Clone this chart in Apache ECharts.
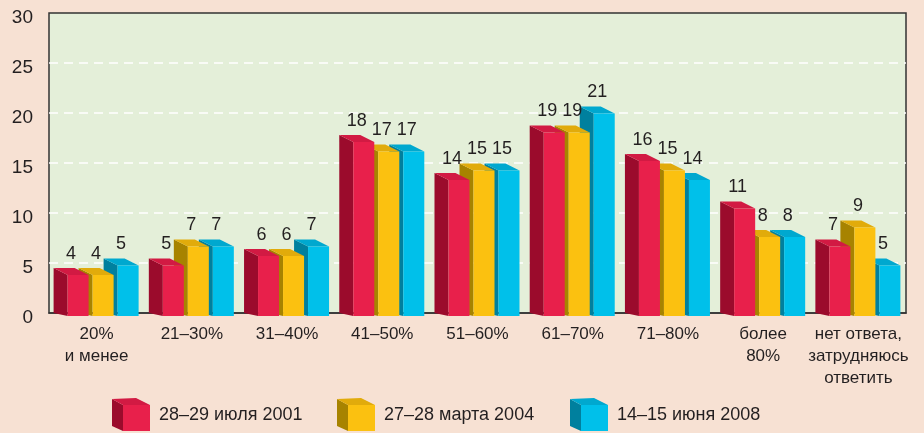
<!DOCTYPE html>
<html>
<head>
<meta charset="utf-8">
<script src="https://cdn.jsdelivr.net/npm/echarts@6/dist/echarts.min.js"></script>
<style>
  html, body { margin: 0; padding: 0; background: #f7e1d3; }
  #chart { width: 924px; height: 433px; }
</style>
</head>
<body>
<div id="chart"></div>
<script>
const categories = ['20%\nи менее', '21–30%', '31–40%', '41–50%', '51–60%', '61–70%', '71–80%', 'более\n80%', 'нет ответа,\nзатрудняюсь\nответить']
const seriesNames = ['28–29 июля 2001', '27–28 марта 2004', '14–15 июня 2008']
const values2001 = [4, 5, 6, 18, 14, 19, 16, 11, 7]
const values2004 = [4, 7, 6, 17, 15, 19, 15, 8, 9]
const values2008 = [5, 7, 7, 17, 15, 21, 14, 8, 5]
const yMin = 0
const yMax = 30
const yStep = 5

// front / side / top colours of each box
const palette = [
  { front: '#e8204b', side: '#9b0b2c', top: '#d21a43' },
  { front: '#fbc110', side: '#a78300', top: '#e1ab0b' },
  { front: '#00c0ea', side: '#00809e', top: '#00a8cf' }
]
const fontFamily = '"Liberation Sans Narrow", "Liberation Sans", sans-serif'
const textColor = '#231f20'

// left edge of the front face inside a category band (px for a 95px band)
const frontOffset = [-29, -4, 21]

function renderBox (params, api) {
  const si = params.seriesIndex
  const idx = api.value(0)
  const v = api.value(1)
  const base = api.coord([idx, 0])
  const top = api.coord([idx, v * 0.95])
  const k = api.size([1, 0])[0] / 95.2
  const w = 21 * k
  const dx = 14 * k
  const dy = 7
  const fl = base[0] + frontOffset[si] * k
  const bottom = base[1] + 3
  const ft = top[1]
  const c = palette[si]
  return {
    type: 'group',
    children: [
      {
        type: 'polygon',
        shape: { points: [[fl, bottom], [fl, ft], [fl - dx, ft - dy], [fl - dx, bottom - 3]] },
        style: { fill: c.side }
      },
      {
        type: 'polygon',
        shape: { points: [[fl, ft], [fl + w, ft], [fl + w - dx, ft - dy], [fl - dx, ft - dy]] },
        style: { fill: c.top }
      },
      {
        type: 'rect',
        shape: { x: fl, y: ft, width: w, height: bottom - ft },
        style: { fill: c.front }
      },
      {
        type: 'text',
        style: {
          text: String(v),
          x: fl + (w - dx) / 2,
          y: ft - 21,
          align: 'center',
          verticalAlign: 'middle',
          fill: textColor,
          font: '18px ' + fontFamily
        }
      }
    ]
  }
}

function legendCube (x0, c) {
  return [
    { type: 'polygon', shape: { points: [[x0 + 11, 431], [x0 + 11, 405], [x0, 399], [x0, 426]] }, style: { fill: c.side } },
    { type: 'polygon', shape: { points: [[x0 + 11, 405], [x0 + 38, 405], [x0 + 24, 398], [x0, 399]] }, style: { fill: c.top } },
    { type: 'rect', shape: { x: x0 + 11, y: 405, width: 27, height: 26 }, style: { fill: c.front } }
  ]
}

const legendX = [112, 337, 570]
const legendGraphics = []
seriesNames.forEach((name, i) => {
  legendCube(legendX[i], palette[i]).forEach(g => legendGraphics.push(g))
  legendGraphics.push({
    type: 'text',
    style: {
      text: name,
      x: legendX[i] + 47,
      y: 415,
      verticalAlign: 'middle',
      fill: textColor,
      font: '18px ' + fontFamily
    }
  })
})

const allValues = [values2001, values2004, values2008]

const chart = echarts.init(document.getElementById('chart'))
const option = {
  backgroundColor: '#f7e1d3',
  animation: false,
  grid: {
    left: 49,
    right: 18,
    top: 13,
    bottom: 120,
    show: true,
    backgroundColor: '#e4efd9',
    borderColor: '#333',
    borderWidth: 1.5
  },
  xAxis: {
    type: 'category',
    data: categories,
    axisTick: { show: false },
    axisLine: { show: true, lineStyle: { color: '#333', width: 1.5 } },
    axisLabel: {
      interval: 0,
      margin: 10,
      color: textColor,
      fontFamily: fontFamily,
      fontSize: 17,
      lineHeight: 22
    }
  },
  yAxis: {
    type: 'value',
    min: yMin,
    max: yMax,
    interval: yStep,
    axisLine: { show: false },
    axisTick: { show: false },
    axisLabel: {
      margin: 16,
      formatter: '{v|{value}}',
      rich: {
        v: {
          color: textColor,
          fontFamily: fontFamily,
          fontSize: 19,
          padding: [9, 0, 0, 0]
        }
      }
    },
    splitLine: {
      showMinLine: false,
      showMaxLine: false,
      lineStyle: { color: '#ffffff', type: [9, 6], width: 1.5 }
    }
  },
  graphic: legendGraphics,
  series: allValues.map((vals, i) => ({
    name: seriesNames[i],
    type: 'custom',
    z: 4 - i,
    renderItem: renderBox,
    data: vals.map((v, j) => [j, v])
  }))
}
chart.setOption(option)
window.addEventListener('resize', function () {
  chart.resize()
})
</script>
</body>
</html>
